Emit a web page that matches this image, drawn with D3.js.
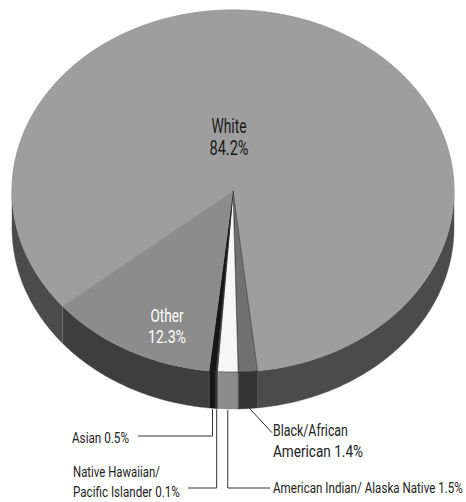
<!DOCTYPE html>
<html><head><meta charset="utf-8">
<script src="https://cdn.jsdelivr.net/npm/d3@7"></script>
<style>html,body{margin:0;padding:0;background:#fff;} svg{display:block;}</style>
</head><body>
<svg id="chart" width="466" height="502"></svg>
<script>
// ---- data ----
const categories = ["White", "Black/African American", "American Indian/ Alaska Native",
                    "Native Hawaiian/ Pacific Islander", "Asian", "Other"];
const values = [84.2, 1.4, 1.5, 0.1, 0.5, 12.3];
const valueLabels = ["84.2%", "1.4%", "1.5%", "0.1%", "0.5%", "12.3%"];
const labelLines = [
  ["White", "84.2%"],
  ["Black/African", "American 1.4%"],
  ["American Indian/ Alaska Native 1.5%"],
  ["Native Hawaiian/", "Pacific Islander 0.1%"],
  ["Asian 0.5%"],
  ["Other", "12.3%"]
];

// ---- styles / layout ----
const topColors  = ["#9e9e9e", "#707070", "#f6f6f6", "#555555", "#161616", "#8c8c8c"];
const sideColors = ["#4b4b4b", "#333333", "#8c8c8c", "#2a2a2a", "#151515", "#3e3e3e"];
const cx = 233, cy = 191, rx = 221, ry = 181, depth = 37;
const startDeg = -129.5;
const FONT = '"Roboto","Liberation Sans",sans-serif';

const svg = d3.select("#chart");
const rad = d => d * Math.PI / 180;
const pie = d3.pie().sort(null).value(d => d)
  .startAngle(rad(startDeg)).endAngle(rad(startDeg) + 2 * Math.PI);
const arcs = pie(values);

const px = a => cx + rx * Math.sin(a);
const py = a => cy - ry * Math.cos(a);

function arcPoints(a0, a1, dy) {
  const n = Math.max(2, Math.ceil(Math.abs(a1 - a0) / rad(0.5)));
  const pts = [];
  for (let i = 0; i <= n; i++) {
    const a = a0 + (a1 - a0) * i / n;
    pts.push([px(a), py(a) + dy]);
  }
  return pts;
}

function visibleRanges(a0, a1) {
  const out = [];
  for (let k = -1; k <= 1; k++) {
    const lo = Math.max(a0, Math.PI / 2 + 2 * Math.PI * k);
    const hi = Math.min(a1, 3 * Math.PI / 2 + 2 * Math.PI * k);
    if (hi > lo) out.push([lo, hi]);
  }
  return out;
}

const line = d3.line();

// side walls
const gSide = svg.append("g");
arcs.forEach((d, i) => {
  visibleRanges(d.startAngle, d.endAngle).forEach(([lo, hi]) => {
    const pts = arcPoints(lo, hi, 0).concat(arcPoints(hi, lo, depth));
    gSide.append("path").attr("d", line(pts) + "Z")
      .attr("fill", sideColors[i]).attr("stroke", sideColors[i]).attr("stroke-width", 0.4);
  });
});
// side boundary lines
arcs.forEach((d, i) => {
  const a = d.startAngle;
  if (visibleRanges(a - 1e-6, a + 1e-6).length) {
    gSide.append("line")
      .attr("x1", px(a)).attr("y1", py(a)).attr("x2", px(a)).attr("y2", py(a) + depth)
      .attr("stroke", i === 0 ? "#7a7a7a" : "#555").attr("stroke-width", 0.8);
  }
});

// top faces
const gTop = svg.append("g");
arcs.forEach((d, i) => {
  const pts = [[cx, cy]].concat(arcPoints(d.startAngle, d.endAngle, 0));
  const small = values[i] < 5;
  gTop.append("path").attr("d", line(pts) + "Z")
    .attr("fill", topColors[i])
    .attr("stroke", small ? "#222" : topColors[i])
    .attr("stroke-width", small ? 0.5 : 0.4)
    .attr("stroke-linejoin", "round");
});
// faint rim outline on the back half
gTop.append("path").attr("d", line(arcPoints(rad(-90), rad(90), 0)))
  .attr("fill", "none").attr("stroke", "#8a8a8a").attr("stroke-width", 0.6);

// ---- labels ----
// each line: [text, x, baseline y, target width]; text squeezed horizontally to match condensed face
function label(lines, size, anchor, color) {
  lines.forEach(([s, x, y, w]) => {
    const t = svg.append("text")
      .attr("text-anchor", anchor)
      .attr("font-family", FONT).attr("font-size", size).attr("font-weight", 400)
      .attr("fill", color).text(s);
    const nat = t.node().getComputedTextLength() || w;
    const sx = Math.min(1, w / nat);
    t.attr("transform", `translate(${x},${y}) scale(${sx},1)`);
  });
}

// inside labels
label([[labelLines[0][0], 229, 133, 35], [labelLines[0][1], 229, 155, 39]], 20, "middle", "#1a1a1a");
label([[labelLines[5][0], 167, 322, 33], [labelLines[5][1], 167, 343, 38]], 17.5, "middle", "#ffffff");

// leader lines (anchored at slice mid angle on the bottom of the side wall)
const gL = svg.append("g").attr("stroke", "#333").attr("stroke-width", 1).attr("fill", "none");
const mid = d => (d.startAngle + d.endAngle) / 2;
const bottomY = d => py(mid(d)) + depth;

// Asian
{ const d = arcs[4], x = px(mid(d));
  gL.append("path").attr("d", line([[x, bottomY(d) + 1], [x, 436], [138, 436]]));
  label([[labelLines[4][0], 72, 443, 57]], 15.5, "start", "#222"); }
// Native Hawaiian
{ const d = arcs[3], x = px(mid(d));
  gL.append("path").attr("d", line([[x, bottomY(d) + 1], [x, 488], [188, 488]]));
  label([[labelLines[3][0], 73, 477, 87], [labelLines[3][1], 73, 497, 107]], 15.5, "start", "#222"); }
// American Indian
{ const d = arcs[2], x = px(mid(d));
  gL.append("path").attr("d", line([[x, bottomY(d) + 1], [x, 488], [270, 488]]));
  label([[labelLines[2][0], 273, 493, 190]], 15.5, "start", "#222"); }
// Black
{ const d = arcs[1], x = px(mid(d)), y = bottomY(d) - 2;
  gL.append("path").attr("d", line([[x, y], [x + 24, y + 26]]));
  label([[labelLines[1][0], 273, 436, 75], [labelLines[1][1], 273, 457, 90]], 17, "start", "#222"); }
</script>
</body></html>
